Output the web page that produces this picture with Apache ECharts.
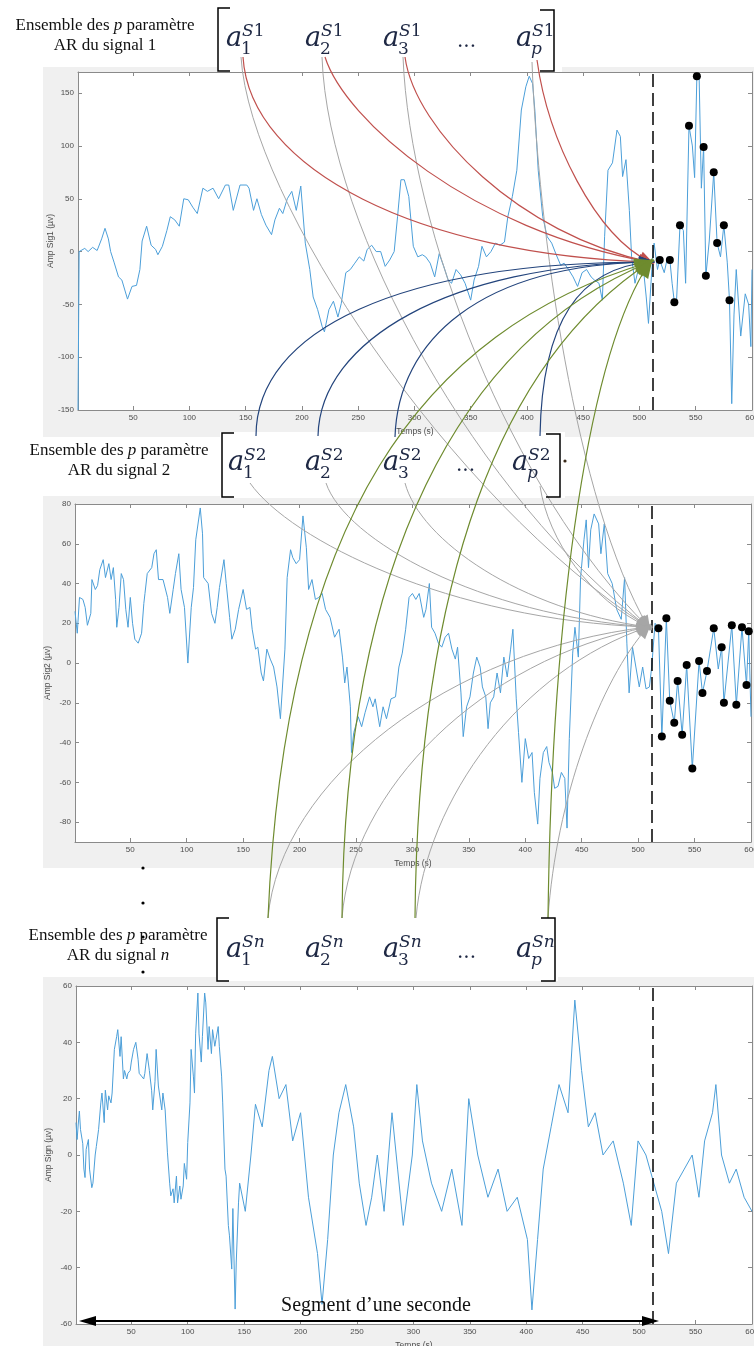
<!DOCTYPE html>
<html><head><meta charset="utf-8">
<script src="https://cdn.jsdelivr.net/npm/echarts@6/dist/echarts.min.js"></script>
<style>html,body{margin:0;padding:0;background:#fff}#c{width:754px;height:1346px}</style>
</head><body><div id="c"></div>
<script>
// ---------- data ----------
const xTicks = [50,100,150,200,250,300,350,400,450,500,550,600];
const sig1Ticks = [-150,-100,-50,0,50,100,150];
const sig2Ticks = [-80,-60,-40,-20,0,20,40,60,80];
const sig3Ticks = [-60,-40,-20,0,20,40,60];
const segmentEnd = 512;

const sig1 = [[1,-150],[2,0],[7,3],[10,0],[14,4],[18,1],[22,12],[25,22],[28,12],[30,0],[33,-10],[37,-24],[40,-27],[45,-45],[49,-33],[53,-32],[56,-17],[58,10],[62,24],[66,6],[70,2],[72,-3],[76,5],[80,20],[83,33],[87,30],[91,24],[95,50],[99,49],[103,42],[107,36],[112,60],[116,57],[121,60],[126,50],[132,63],[135,63],[139,39],[145,63],[151,63],[153,60],[157,39],[160,50],[164,35],[168,25],[173,16],[176,30],[180,41],[183,36],[187,50],[191,57],[195,39],[199,62],[203,8],[207,-17],[210,-43],[214,-55],[218,-71],[220,-76],[224,-55],[228,-47],[232,-62],[235,-49],[239,-20],[243,-17],[247,-11],[251,-5],[255,-9],[258,2],[262,6],[266,0],[270,0],[274,-14],[278,-8],[282,0],[285,33],[288,68],[291,68],[295,52],[299,5],[303,-5],[307,-3],[310,-5],[314,-11],[318,-24],[322,-2],[326,-14],[330,-27],[333,-30],[337,-17],[341,-22],[345,-30],[350,-46],[353,-27],[357,-14],[360,5],[364,-5],[368,0],[372,8],[376,6],[380,9],[383,33],[387,52],[391,77],[395,134],[399,156],[402,166],[405,159],[407,134],[410,77],[414,33],[418,14],[422,8],[426,-3],[430,-13],[433,-11],[437,-17],[441,-24],[445,-33],[449,-20],[453,-17],[457,-24],[460,-27],[464,-30],[467,-46],[469,14],[472,77],[476,84],[480,115],[483,109],[485,71],[488,87],[491,39],[493,-5],[496,-30],[499,-17],[503,-11],[506,-43],[508,-68],[511,-17],[513,8],[516,-17],[518,-8],[522,-20],[525,-5],[527,-8],[529,-30],[531,-48],[533,-45],[536,25],[539,20],[541,-30],[544,119],[547,100],[549,70],[551,166],[553,166],[555,60],[557,99],[559,-23],[562,10],[566,75],[569,8],[572,-5],[575,25],[578,-10],[580,-46],[582,-144],[584,-60],[586,-17],[590,-80],[594,-40],[597,-50],[599,-90],[600,-17]];
const sig1Dots = [[518,-8],[527,-8],[531,-48],[536,25],[544,119],[551,166],[557,99],[559,-23],[566,75],[569,8],[575,25],[580,-46]];

const sig2 = [[1,26],[3,15],[5,33],[8,32],[10,28],[12,19],[15,25],[16,42],[19,37],[21,39],[23,47],[26,52],[28,43],[31,50],[33,42],[35,48],[37,32],[38,18],[40,28],[42,45],[44,42],[46,27],[48,18],[50,33],[52,20],[54,12],[57,10],[60,15],[62,30],[63,35],[65,45],[69,48],[71,55],[73,57],[75,42],[79,42],[83,33],[85,25],[88,37],[90,45],[93,55],[95,37],[98,28],[101,0],[104,28],[106,38],[108,62],[112,78],[114,65],[115,43],[119,40],[122,25],[125,20],[127,28],[129,38],[133,52],[135,40],[138,23],[140,12],[143,17],[146,27],[150,37],[153,27],[156,28],[158,17],[161,7],[163,8],[166,-5],[168,-9],[171,7],[174,2],[177,-2],[180,-12],[183,-28],[187,7],[189,43],[192,57],[194,53],[197,50],[200,52],[203,74],[206,58],[208,37],[211,42],[214,32],[217,33],[220,35],[223,27],[227,23],[231,13],[235,17],[238,3],[240,-10],[242,-2],[245,-22],[246,-45],[248,-35],[252,-27],[255,-32],[258,-25],[262,-17],[265,-22],[267,-18],[271,-32],[274,-22],[277,-28],[281,-18],[285,-17],[288,-2],[291,5],[294,17],[297,33],[300,35],[303,32],[306,35],[310,23],[312,27],[315,40],[317,18],[320,15],[323,10],[326,8],[329,13],[332,15],[335,7],[338,2],[340,8],[343,-15],[345,-37],[348,-22],[351,-17],[354,-5],[357,3],[360,-2],[362,-12],[365,-17],[367,-33],[369,-20],[372,-17],[375,-5],[378,-15],[381,3],[384,-7],[387,7],[389,17],[392,-18],[394,-35],[397,-60],[400,-38],[403,-48],[406,-45],[408,-65],[411,-81],[413,-58],[416,-45],[419,-42],[421,-50],[424,-55],[426,-63],[429,-62],[432,-55],[435,-58],[437,-83],[439,-38],[442,5],[444,18],[447,3],[449,43],[452,62],[454,72],[456,48],[458,67],[461,75],[465,70],[467,55],[470,70],[473,45],[477,40],[481,27],[485,22],[488,43],[490,10],[492,-15],[495,8],[498,-2],[501,-12],[504,-2],[507,-13],[510,-12],[512,-2],[515,20],[518,17.5],[521,-37],[525,22.5],[528,-19],[532,-30],[535,-9],[539,-36],[543,-1],[548,-53],[554,1],[557,-15],[561,-4],[567,17.5],[571,-3],[574,8],[576,-20],[583,19],[587,-21],[592,18],[596,-11],[598,16],[600,-27]];
const sig2Dots = [[518,17.5],[521,-37],[525,22.5],[528,-19],[532,-30],[535,-9],[539,-36],[543,-1],[548,-53],[554,1],[557,-15],[561,-4],[567,17.5],[574,8],[576,-20],[583,19],[587,-21],[592,18],[596,-11],[598,16]];

const sig3 = [[1,11.5],[2,5.5],[3,11],[4,15.6],[5,9],[7,4],[8,-5],[9,-8],[10,2],[12,5.5],[13,-5],[15,-11.6],[16,-10],[18,0],[19,3],[21,9],[23,18.5],[24,22],[26,11.5],[27,23],[29,16],[30,21],[32,18.5],[33,22],[35,37.5],[37,42],[38,44.5],[40,35],[41,42],[43,27],[44,30],[46,27],[47,29],[49,30],[50,33],[52,37.5],[54,40],[56,34],[57,29],[59,28],[61,27],[62,29],[64,36],[65,36],[66,30],[68,23],[69,16],[71,26],[72,37.5],[74,24.5],[75,24.5],[77,16],[78,22],[80,16],[82,1],[84,-10],[85,-14.5],[87,-12],[88,-17],[90,-7.5],[91,-17],[93,-11],[94,-15.7],[96,-11],[97,-3],[99,-8.6],[100,4.4],[102,18.5],[103,37.5],[105,28],[106,22],[107,43],[109,57.5],[110,43],[112,33],[113,42],[115,57.5],[116,54],[118,37.5],[119,45.6],[121,36],[122,44.5],[124,38.6],[125,41],[127,45.6],[128,38.6],[130,28],[131,18.5],[133,-5],[134,-7.5],[136,-25],[137,-28.7],[139,-40.5],[140,-19],[142,-54.7],[143,-38],[145,-17],[146,-10],[151,-20],[156,0],[160,18],[166,10],[172,30],[175,35],[181,20],[187,25],[193,5],[200,15],[207,-15],[215,-35],[219,-53],[224,-30],[229,0],[234,15],[240,25],[247,10],[252,-10],[258,-25],[263,-15],[268,0],[274,-20],[281,15],[286,-5],[291,-25],[299,0],[303,25],[308,5],[316,-10],[325,-20],[334,-5],[343,-25],[349,20],[357,0],[366,-15],[375,-5],[383,-20],[392,-15],[401,-30],[405,-55],[410,-30],[415,-5],[422,10],[429,25],[437,15],[443,55],[449,30],[455,10],[461,15],[468,0],[477,5],[486,-10],[493,-25],[499,5],[506,0],[513,-10],[520,-20],[526,-35],[533,-10],[540,-5],[547,0],[553,-15],[558,5],[565,15],[568,25],[573,0],[580,-10],[586,-5],[593,-15],[600,-20]];

// ---------- layout / styles ----------
const grids = [
  {left:78, top:72, width:674, height:338},
  {left:75, top:504, width:676, height:338},
  {left:76, top:986, width:676, height:338}
];
const yCfg = [
  {name:'Amp Sig1 (\u00b5v)', min:-150, max:170, ticks:sig1Ticks},
  {name:'Amp Sig2 (\u00b5v)', min:-90, max:80, ticks:sig2Ticks},
  {name:'Amp Sign (\u00b5v)', min:-60, max:60, ticks:sig3Ticks}
];
const AXC = '#8a8a8a', LBC = '#4d4d4d', LINE = '#4c9fd9';
const sigs = [sig1, sig2, sig3];
const dots = [sig1Dots, sig2Dots, null];

const xAxis = [], yAxis = [], series = [];
grids.forEach((g, i) => {
  const common = {gridIndex:i, type:'value', min:1, max:600,
    axisLine:{show:true, onZero:false, lineStyle:{color:AXC, width:1}},
    axisTick:{show:true, inside:true, length:4, customValues:xTicks, lineStyle:{color:AXC}},
    splitLine:{show:false}};
  xAxis.push(Object.assign({}, common, {position:'bottom',
    name:'Temps (s)', nameLocation:'middle', nameGap:17,
    nameTextStyle:{fontSize:8.5, color:LBC, fontFamily:'Liberation Sans'},
    axisLabel:{show:true, customValues:xTicks, fontSize:8, color:LBC, margin:4, fontFamily:'Liberation Sans'}}));
  xAxis.push(Object.assign({}, common, {position:'top', axisLabel:{show:false}}));
  const yc = yCfg[i];
  const ycom = {gridIndex:i, type:'value', min:yc.min, max:yc.max,
    axisLine:{show:true, onZero:false, lineStyle:{color:AXC, width:1}},
    axisTick:{show:true, inside:true, length:4, customValues:yc.ticks, lineStyle:{color:AXC}},
    splitLine:{show:false}};
  yAxis.push(Object.assign({}, ycom, {position:'left',
    name:yc.name, nameLocation:'middle', nameGap:23, nameMoveOverlap:false,
    nameTextStyle:{fontSize:8.5, color:LBC, fontFamily:'Liberation Sans'},
    axisLabel:{show:true, customValues:yc.ticks, fontSize:8, color:LBC, margin:4, fontFamily:'Liberation Sans'}}));
  yAxis.push(Object.assign({}, ycom, {position:'right', axisLabel:{show:false}}));
  series.push({type:'line', xAxisIndex:2*i, yAxisIndex:2*i, data:sigs[i], showSymbol:false,
    symbol:'none', lineStyle:{color:LINE, width:1}, animation:false, z:3,
    markLine:{silent:true, symbol:['none','none'], label:{show:false}, animation:false,
      lineStyle:{color:'#000', width:1.5, type:[13,6], opacity:1}, data:[{xAxis:segmentEnd}]}});
  if (dots[i]) series.push({type:'scatter', xAxisIndex:2*i, yAxisIndex:2*i, data:dots[i],
    symbolSize:8, itemStyle:{color:'#000', opacity:1}, animation:false, z:5});
});

// ---------- annotation graphics ----------
const G = [];
[[43,67,711,370],[43,496,711,372],[43,977,711,369]].forEach(r =>
  G.push({type:'rect', z:-20, silent:true, shape:{x:r[0],y:r[1],width:r[2],height:r[3]}, style:{fill:'#f0f0f0'}}));
[[217,0,345,72],[220,432,345,66],[216,917,342,64]].forEach(r =>
  G.push({type:'rect', z:-19, silent:true, shape:{x:r[0],y:r[1],width:r[2],height:r[3]}, style:{fill:'#fff'}}));
grids.forEach(g => G.push({type:'rect', z:-18, silent:true,
  shape:{x:g.left,y:g.top,width:g.width,height:g.height}, style:{fill:'#fff'}}));

function bracket(xl, xr, yt, yb, yt2, yb2) {
  G.push({type:'polyline', z:40, silent:true, shape:{points:[[xl+12,yt],[xl,yt],[xl,yb],[xl+12,yb]]}, style:{stroke:'#000', lineWidth:1.5, fill:null}});
  G.push({type:'polyline', z:40, silent:true, shape:{points:[[xr-14,yt2],[xr,yt2],[xr,yb2],[xr-14,yb2]]}, style:{stroke:'#000', lineWidth:1.5, fill:null}});
}
bracket(218, 554, 8, 71, 10, 71);
bracket(222, 560, 433, 497, 434, 497);
bracket(217, 555, 918, 981, 918, 981);

const T1 = [650,262], T2 = [648,627];
const redCurves = [[243,57,250,170,420,255],[325,57,345,120,470,230],[405,57,415,130,520,235],[537,60,548,140,595,235]];
const blueCurves = [[256,436,256,330,400,262],[318,436,320,340,450,265],[395,437,398,340,480,265],[540,436,542,320,580,268]];
const greenCurves = [[268,918,285,520,420,330],[342,918,345,560,460,340],[415,918,418,580,500,360],[548,918,552,600,590,350]];
const greyCurves = [[241,57,250,200,450,500],[322,57,328,230,480,500],[403,57,410,230,510,490],[532,62,538,230,575,500],
  [250,483,290,540,450,620],[326,483,345,540,480,615],[405,483,420,540,520,610],[540,486,548,540,590,600],
  [268,918,280,780,450,650],[342,918,352,790,480,660],[416,918,426,800,520,670],[548,918,556,800,600,680]];

function curve(c, end, color, w, z) {
  G.push({type:'bezierCurve', z:z, silent:true,
    shape:{x1:c[0],y1:c[1],cpx1:c[2],cpy1:c[3],cpx2:c[4],cpy2:c[5],x2:end[0],y2:end[1]},
    style:{stroke:color, lineWidth:w, fill:null}});
}
function head(c, end, color, z, len, hw) {
  let dx = end[0]-c[4], dy = end[1]-c[5]; const L = Math.hypot(dx,dy); dx/=L; dy/=L;
  const tip = [end[0]+dx*5, end[1]+dy*5], b = [tip[0]-dx*len, tip[1]-dy*len];
  G.push({type:'polygon', z:z, silent:true, shape:{points:[tip,[b[0]-dy*hw,b[1]+dx*hw],[b[0]+dy*hw,b[1]-dx*hw]]}, style:{fill:color}});
}
const RED='#c0504d', BLUE='#23447c', GREEN='#6e8b2e', GREY='#a6a6a6';
greyCurves.forEach(c => curve(c, T2, GREY, 1, 30));
redCurves.forEach(c => curve(c, T1, RED, 1.2, 31));
blueCurves.forEach(c => curve(c, T1, BLUE, 1.2, 32));
greenCurves.forEach(c => curve(c, T1, GREEN, 1.2, 33));
greyCurves.forEach(c => head(c, T2, GREY, 34, 16, 6));
redCurves.forEach(c => head(c, T1, RED, 35, 16, 6));
blueCurves.forEach(c => head(c, T1, BLUE, 36, 16, 6));
greenCurves.forEach(c => head(c, T1, GREEN, 37, 20, 8));

const TXT = '#1e2844', MF = 'DejaVu Serif';
function txt(x, y, text, size, italic, align) {
  G.push({type:'text', z:60, silent:true, style:{text:text, x:x, y:y,
    fontSize:size, fontFamily:MF, fontStyle:italic?'italic':'normal', fill:TXT,
    align:align||'left', verticalAlign:'middle'}});
}
function richSup(x, y, s, d, dItalic) {
  G.push({type:'text', z:60, silent:true, style:{text:'{i|'+s+'}{'+(dItalic?'i':'r')+'|'+d+'}', x:x, y:y,
    align:'left', verticalAlign:'middle',
    rich:{i:{fontSize:17, fontFamily:MF, fontStyle:'italic', fill:TXT}, r:{fontSize:17, fontFamily:MF, fill:TXT}}}});
}
const labelSets = [
  {ax:[226,305,383,516], dots:457, base:48, sup:['S','1',false]},
  {ax:[228,305,383,512], dots:456, base:472, sup:['S','2',false]},
  {ax:[226,305,383,516], dots:457, base:959, sup:['S','n',true]}
];
const subs = ['1','2','3','p'];
labelSets.forEach(L => {
  L.ax.forEach((x, k) => {
    txt(x, L.base-9, 'a', 27, true);
    richSup(x+16, L.base-16, L.sup[0], L.sup[1], L.sup[2]);
    txt(x+15, L.base+2, subs[k], 17, k===3);
  });
  txt(L.dots, L.base-6, '...', 20, false);
});

function title(cx, y, n, nItalic) {
  G.push({type:'text', z:60, silent:true, style:{
    text:'{r|Ensemble des }{i|p}{r| param\u00e8tre}\n{r|AR du signal }{'+(nItalic?'i':'r')+'|'+n+'}',
    x:cx, y:y, align:'center', verticalAlign:'top', lineHeight:20,
    rich:{r:{fontSize:17, fontFamily:'Liberation Serif', fill:'#111', lineHeight:20},
          i:{fontSize:17, fontFamily:'Liberation Serif', fontStyle:'italic', fill:'#111', lineHeight:20}}}});
}
title(105, 16, '1', false);
title(119, 441, '2', false);
title(118, 926, 'n', true);

[868,903,937,972].forEach(y => G.push({type:'circle', z:60, silent:true, shape:{cx:143, cy:y, r:1.6}, style:{fill:'#000'}}));
G.push({type:'circle', z:60, silent:true, shape:{cx:565, cy:461, r:1.6}, style:{fill:'#3a2a1a'}});

G.push({type:'line', z:60, silent:true, shape:{x1:90, y1:1321, x2:648, y2:1321}, style:{stroke:'#000', lineWidth:2}});
G.push({type:'polygon', z:61, silent:true, shape:{points:[[79,1321],[96,1316],[96,1326]]}, style:{fill:'#000'}});
G.push({type:'polygon', z:61, silent:true, shape:{points:[[659,1321],[642,1316],[642,1326]]}, style:{fill:'#000'}});
G.push({type:'text', z:61, silent:true, style:{text:'Segment d\u2019une seconde', x:376, y:1306,
  align:'center', verticalAlign:'middle', fontSize:20, fontFamily:'Liberation Serif', fill:'#111'}});

const chart = echarts.init(document.getElementById('c'));
chart.setOption({
  animation:false,
  backgroundColor:'#fff',
  grid: grids.map(g => Object.assign({containLabel:false, outerBoundsMode:'none', show:false}, g)),
  xAxis, yAxis, series,
  graphic:{elements:G}
});
</script></body></html>
